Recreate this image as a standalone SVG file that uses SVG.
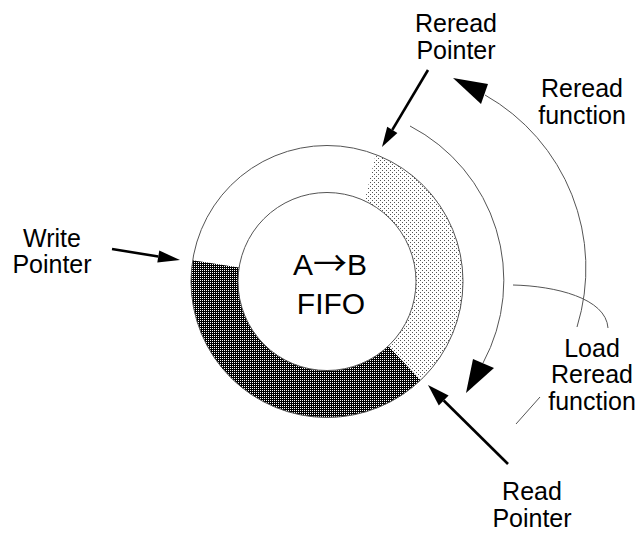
<svg xmlns="http://www.w3.org/2000/svg" width="642" height="533" viewBox="0 0 642 533">
<style>
text{font-family:"Liberation Sans",Arial,sans-serif;font-size:25px;fill:#000;text-anchor:middle}
.big{font-size:30px}
.arw{font-family:"Noto Sans CJK SC","DejaVu Sans",sans-serif;font-size:34px}
.ring{fill:none;stroke:#555;stroke-width:1}
.arc{fill:none;stroke:#555;stroke-width:1}
.ptr{stroke:#000;stroke-width:2.6;fill:none}
.head{fill:#000}
</style>
<defs>
<pattern id="dark" width="2" height="2" patternUnits="userSpaceOnUse">
<rect width="2" height="2" fill="#000"/><rect width="1" height="1" fill="#fff"/>
</pattern>
<pattern id="light" width="4" height="4" patternUnits="userSpaceOnUse">
<rect width="4" height="4" fill="#fff"/><rect width="1" height="1" fill="#555"/><rect x="2" y="2" width="1" height="1" fill="#555"/>
</pattern>
</defs>
<g id="fifo">
<path d="M375.7,154.5 A136,136 0 0 1 420.6,380.2 L388.3,346.1 A89,89 0 0 0 364.6,200.8 Z" fill="url(#light)"/>
<path d="M420.6,380.2 A136,136 0 0 1 192.7,260.2 L239.1,267.6 A89,89 0 0 0 388.3,346.1 Z" fill="url(#dark)"/>
<circle class="ring" cx="327" cy="281.5" r="136"/>
<circle class="ring" cx="327" cy="281.5" r="89"/>
<text class="big" x="330" y="275">A<tspan class="arw" dy="1">→</tspan><tspan dy="-1">B</tspan></text>
<text class="big" x="331" y="314">FIFO</text>
</g>
<g id="reread-pointer-label">
<text x="456" y="32">Reread</text>
<text x="456" y="59">Pointer</text>
</g>
<g id="reread-function-label">
<text x="582" y="97">Reread</text>
<text x="582" y="124">function</text>
</g>
<g id="write-pointer-label">
<text x="52" y="247">Write</text>
<text x="52" y="273">Pointer</text>
</g>
<g id="load-reread-label">
<text x="592" y="357">Load</text>
<text x="592" y="383">Reread</text>
<text x="592" y="410">function</text>
</g>
<g id="read-pointer-label">
<text x="532" y="500">Read</text>
<text x="532" y="527">Pointer</text>
</g>
<g id="connectors">
<path class="arc" d="M410,126 A174,174 0 0 1 483,363"/>
<polygon class="head" points="473,359 494,368 466,393"/>
<path class="arc" d="M577,327 A199,199 0 0 0 485,95"/>
<polygon class="head" points="488,84 481,104 453,78"/>
<path class="arc" d="M513,285 C555,286 606,298 608,328"/>
<path class="arc" d="M516,424 L540,397"/>
<line class="ptr" x1="428" y1="70" x2="392.3" y2="129.8"/>
<polygon class="head" points="397.4,132.9 387.2,126.7 382,147"/>
<line class="ptr" x1="112" y1="249" x2="158.3" y2="256.5"/>
<polygon class="head" points="157.3,262.4 159.3,250.6 180,260"/>
<line class="ptr" x1="508" y1="464" x2="443.7" y2="400.5"/>
<polygon class="head" points="448.6,395.5 438.8,405.5 428,385"/>
</g>
</svg>
